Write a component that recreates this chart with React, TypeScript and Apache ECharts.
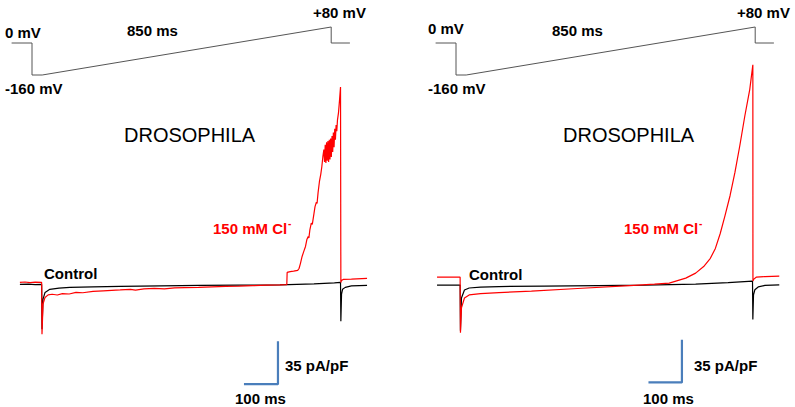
import React, { useEffect, useRef } from 'react';
import * as echarts from 'echarts';

// Voltage protocol (ms, mV)
const protocol: [number, number][] = [
  [-60, 0], [0, 0], [0, -160], [30, -160], [880, 80], [880, 0], [935, 0],
];

// Left panel currents (ms, pA/pF)
const leftControl: [number, number][] = [
  [-65, 0], [-40, 0.2], [-20, -0.2], [-1, 0], [0, -36.6], [3, -12], [9, -6.5], [23, -4],
  [50, -3], [82, -2.4], [150, -2], [229, -1.6], [350, -1.2], [465, -0.8], [580, -0.6],
  [700, -0.4], [800, 0.4], [860, 1.2], [878, 1.6], [879, -30], [881, -8], [884, -4],
  [892, -2.4], [910, -1.2], [956, -0.8],
];

const leftChloride: [number, number][] = [
  [-65, 1.6], [-50, 2], [-35, 1.4], [-20, 1.9], [-1, 1.6], [0, -40.7], [3, -16], [9, -10.6],
  [18, -8.5], [30, -8], [45, -8.6], [60, -7.5], [80, -7.8], [100, -6.5], [120, -6.8],
  [150, -5.7], [180, -5.2], [205, -4.8], [230, -4.5], [260, -4], [275, -4.6], [300, -3.6],
  [330, -3.3], [360, -3.6], [390, -2.8], [420, -2.6], [460, -2.4], [500, -2], [540, -1.6],
  [580, -1.4], [620, -1], [660, -0.6], [700, -0.4], [720, -0.2], [721, 9.8], [730, 10.5],
  [740, 10.8], [752, 11.4], [756, 13], [760, 17], [765, 22.8], [770, 27], [775, 31],
  [779, 36.6], [783, 39], [785, 38], [788, 44.8], [792, 50], [795, 49], [800, 58],
  [803, 63.5], [807, 67], [809, 66], [812, 74.9], [816, 84], [820, 90], [823, 96],
  [826, 104], [829, 110], [831, 100], [833, 114], [835, 99], [837, 116], [839, 101],
  [841, 117], [843, 100], [845, 118], [847, 102], [849, 119], [851, 104], [853, 121],
  [855, 108], [857, 124], [859, 112], [861, 127], [863, 118], [865, 130], [867, 125],
  [869, 134], [872, 140], [875, 150], [878, 161], [879, 1.6], [881, 3.3], [886, 4.1],
  [910, 4.3], [956, 4.9],
];

// Right panel currents (ms, pA/pF)
const rightControl: [number, number][] = [
  [-70, 0], [-1, 0], [0, -37.4], [3, -10.6], [12, -4], [26, -2.4], [60, -1.6], [115, -1.2],
  [250, -0.8], [409, -0.4], [550, 0], [703, 0.8], [800, 2], [873, 3.3], [874, -28.2],
  [876, -8], [880, -3.8], [890, -1.5], [910, -0.3], [953, 0.2],
];

const rightChloride: [number, number][] = [
  [-70, 6.5], [-1, 6.5], [0, -39], [3, -18.7], [12, -10.6], [26, -8.1], [60, -7], [115, -6.1],
  [212, -4.9], [350, -2.8], [506, -0.4], [580, 0.8], [624, 1.6], [673.5, 5.7], [703, 9.8],
  [727, 15.2], [747, 22], [762, 30.1], [776.5, 42.3], [791, 57.2], [806, 73.5],
  [820.6, 92.6], [835, 114.3], [850, 138.7], [864.7, 160.4], [874, 180.7], [874.3, 3.3],
  [877, 4.9], [884, 6.5], [910, 7], [953, 7.3],
];

// Scale bars: 100 ms, 35 pA/pF
const leftScaleBar: [number, number][] = [[594, -81.4], [694, -81.4], [694, -46.4]];
const rightScaleBar: [number, number][] = [[562, -79.8], [662, -79.8], [662, -44.8]];

const FONT = 'Liberation Sans, Arial, sans-serif';

function txt(text: string, x: number, y: number, size: number, bold: boolean, color = '#000') {
  return {
    type: 'text',
    x,
    y,
    silent: true,
    style: {
      text,
      fill: color,
      fontSize: size,
      fontWeight: bold ? 'bold' : 'normal',
      fontFamily: FONT,
      align: 'left',
      verticalAlign: 'middle',
      textAlign: 'left',
      textVerticalAlign: 'middle',
    },
  };
}

export default function App() {
  const ref = useRef<HTMLDivElement>(null);
  useEffect(() => {
    document.body.style.margin = '0';
    if (!ref.current) return;
    const chart = echarts.init(ref.current, undefined, { renderer: 'svg' });
    const pxPerMs = 0.34;
    const pxPerUnit = 43 / 35;
    const curMin = -100, curMax = 200;
    const curH = (curMax - curMin) * pxPerUnit;
    const xMin = -100, xMax = 1000;
    const curW = (xMax - xMin) * pxPerMs;
    const vMinT = -60, vMaxT = 940;
    const vW = (vMaxT - vMinT) * pxPerMs;

    const grids = [
      { left: 42 - 100 * pxPerMs, top: 285 - curMax * pxPerUnit, width: curW, height: curH },
      { left: 461 - 100 * pxPerMs, top: 287 - curMax * pxPerUnit, width: curW, height: curH },
      { left: 32 - 60 * pxPerMs, top: 23, width: vW, height: 60 },
      { left: 456 - 60 * pxPerMs, top: 23, width: vW, height: 60 },
    ];
    const xAxes = grids.map((_, i) => ({
      type: 'value', gridIndex: i, show: false,
      min: i < 2 ? xMin : vMinT, max: i < 2 ? xMax : vMaxT,
    }));
    const yAxes = grids.map((_, i) => ({
      type: 'value', gridIndex: i, show: false,
      min: i < 2 ? curMin : -200, max: i < 2 ? curMax : 100,
    }));
    const line = (data: [number, number][], idx: number, color: string, width = 1.2) => ({
      type: 'line', data, xAxisIndex: idx, yAxisIndex: idx, symbol: 'none',
      lineStyle: { color, width }, silent: true, clip: false, z: 2,
    });

    chart.setOption({
      animation: false,
      backgroundColor: '#fff',
      grid: grids,
      xAxis: xAxes,
      yAxis: yAxes,
      series: [
        line(leftControl, 0, '#000'),
        line(leftChloride, 0, '#ff0000'),
        line(rightControl, 1, '#000'),
        line(rightChloride, 1, '#ff0000'),
        line(leftScaleBar, 0, '#4a7ebb', 2.2),
        line(rightScaleBar, 1, '#4a7ebb', 2.2),
        line(protocol, 2, '#555', 1),
        line(protocol, 3, '#555', 1),
      ],
      graphic: [
        txt('0 mV', 5, 32, 15, true),
        txt('850 ms', 127, 30, 15, true),
        txt('+80 mV', 313, 12, 15, true),
        txt('-160 mV', 5, 88, 15, true),
        txt('DROSOPHILA', 124, 135, 20, false),
        txt('150 mM Cl', 213, 228, 15, true, '#ff0000'),
        txt('-', 288, 223, 10, true, '#ff0000'),
        txt('Control', 44, 273, 15, true),
        txt('35 pA/pF', 285, 365, 15, true),
        txt('100 ms', 235, 398, 15, true),
        txt('0 mV', 428, 28, 15, true),
        txt('850 ms', 552, 30, 15, true),
        txt('+80 mV', 737, 12, 15, true),
        txt('-160 mV', 428, 88, 15, true),
        txt('DROSOPHILA', 563, 135, 20, false),
        txt('150 mM Cl', 624, 228, 15, true, '#ff0000'),
        txt('-', 699, 223, 10, true, '#ff0000'),
        txt('Control', 469, 274, 15, true),
        txt('35 pA/pF', 694, 365, 15, true),
        txt('100 ms', 643, 398, 15, true),
      ],
    });
    return () => chart.dispose();
  }, []);
  return <div ref={ref} style={{ width: 795, height: 407 }} />;
}
